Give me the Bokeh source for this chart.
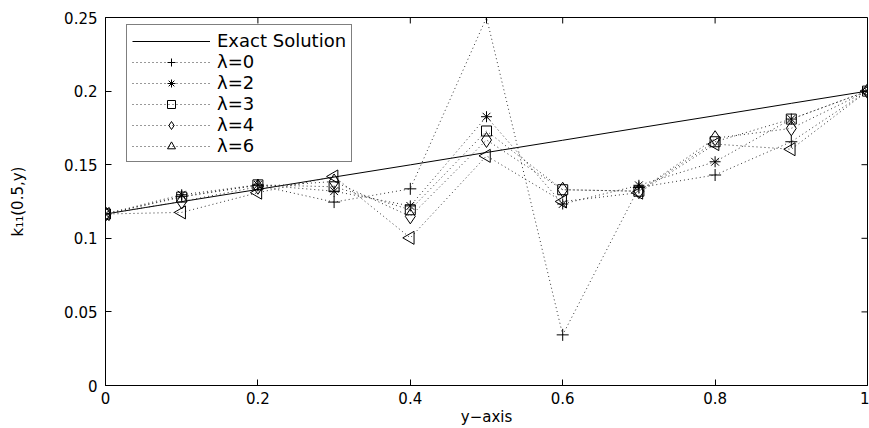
import math
from bokeh.plotting import figure
from bokeh.models import Range1d, FixedTicker, CustomJSTickFormatter, Legend, LegendItem
from bokeh.embed import file_html
from bokeh.resources import INLINE

# ---- data ----
x_vals = [0.0, 0.1, 0.2, 0.3, 0.4, 0.5, 0.6, 0.7, 0.8, 0.9, 1.0]
exact = [0.1165, 0.1249, 0.1332, 0.1416, 0.1499, 0.1583, 0.1666, 0.1750, 0.1833, 0.1917, 0.2000]
lam0 = [0.1165, 0.1285, 0.1360, 0.1246, 0.1336, 0.2500, 0.0344, 0.1345, 0.1430, 0.1656, 0.2000]
lam2 = [0.1165, 0.1296, 0.1363, 0.1320, 0.1220, 0.1826, 0.1233, 0.1360, 0.1520, 0.1810, 0.2000]
lam3 = [0.1165, 0.1280, 0.1363, 0.1350, 0.1194, 0.1729, 0.1330, 0.1320, 0.1656, 0.1810, 0.2000]
lam4 = [0.1165, 0.1250, 0.1350, 0.1386, 0.1149, 0.1668, 0.1330, 0.1320, 0.1680, 0.1747, 0.2000]
lam6 = [0.1165, 0.1176, 0.1310, 0.1420, 0.1003, 0.1560, 0.1250, 0.1310, 0.1640, 0.1605, 0.2000]
series_labels = ["λ=0", "λ=2", "λ=3", "λ=4", "λ=6"]
x_ticks = [0.0, 0.2, 0.4, 0.6, 0.8, 1.0]
y_ticks = [0.0, 0.05, 0.10, 0.15, 0.20, 0.25]

FONT = "DejaVu Sans"
X0, X1, Y0, Y1 = 0.0, 1.0, 0.0, 0.25
W, H = 869, 428
BL, BR, BT, BB = 105, 2, 17, 42
TICK = 6  # px

p = figure(width=W, height=H, output_backend="svg", toolbar_location=None,
           x_range=Range1d(X0, X1), y_range=Range1d(Y0, Y1),
           min_border_left=BL, min_border_right=BR, min_border_top=BT, min_border_bottom=BB)
p.background_fill_color = "white"
p.border_fill_color = "white"
p.outline_line_color = "black"
p.outline_line_width = 1
p.xgrid.visible = False
p.ygrid.visible = False

fmt = CustomJSTickFormatter(code="return tick.toFixed(2).replace(/\\.?0+$/, '');")

for ax, ticks in ((p.xaxis[0], x_ticks), (p.yaxis[0], y_ticks)):
    ax.ticker = FixedTicker(ticks=ticks)
    ax.formatter = fmt
    ax.major_tick_in = TICK
    ax.major_tick_out = 0
    ax.minor_tick_line_color = None
    ax.axis_line_color = "black"
    ax.major_tick_line_color = "black"
    ax.major_label_text_font = FONT
    ax.major_label_text_font_size = "15px"
    ax.major_label_text_color = "black"
    ax.axis_label_text_font = FONT
    ax.axis_label_text_font_size = "15px"
    ax.axis_label_text_font_style = "normal"
    ax.axis_label_text_color = "black"

p.xaxis[0].axis_label = "y\u2212axis"
p.xaxis[0].major_label_standoff = 6
p.xaxis[0].axis_label_standoff = 1
p.yaxis[0].axis_label = "k\u2081\u2081(0.5,y)"
p.yaxis[0].major_label_standoff = 8
p.yaxis[0].axis_label_standoff = 34

# mirrored inward ticks on the top and right edges of the box
fw = W - BL - BR
fh = H - BT - BB
dy = (Y1 - Y0) * TICK / fh
dx = (X1 - X0) * TICK / fw
p.segment(x0=x_ticks, y0=[Y1] * len(x_ticks), x1=x_ticks, y1=[Y1 - dy] * len(x_ticks),
          line_color="black", line_width=1)
p.segment(x0=[X1] * len(y_ticks), y0=y_ticks, x1=[X1 - dx] * len(y_ticks), y1=y_ticks,
          line_color="black", line_width=1)

# exact solution
r_exact = p.line(x_vals, exact, line_color="black", line_width=1)

items = [LegendItem(label="Exact Solution", renderers=[r_exact])]
series = [lam0, lam2, lam3, lam4, lam6]
markers = ["cross", "asterisk", "square", "diamond", "triangle"]
angles = [0, 0, 0, 0, math.pi / 2]
sizes = [12, 11, 10, 15, 13]
for vals, lab, mk, ang, sz in zip(series, series_labels, markers, angles, sizes):
    rl = p.line(x_vals, vals, line_color="#333333", line_width=1, line_dash="1 3")
    rs = p.scatter(x_vals, vals, marker=mk, size=sz, angle=ang,
                   line_color="black", fill_color=None, line_width=1)
    items.append(LegendItem(label=lab, renderers=[rl, rs]))

legend = Legend(items=items, location=(21, 223))
legend.label_text_font = FONT
legend.label_text_font_size = "18px"
legend.label_text_color = "black"
legend.glyph_width = 78
legend.glyph_height = 20
legend.label_height = 20
legend.label_standoff = 7
legend.spacing = 0
legend.padding = 5
legend.margin = 0
legend.border_line_color = "black"
legend.border_line_width = 1
legend.background_fill_color = "white"
legend.background_fill_alpha = 1
p.add_layout(legend, "center")

open("out.html", "w").write(file_html(p, INLINE))
